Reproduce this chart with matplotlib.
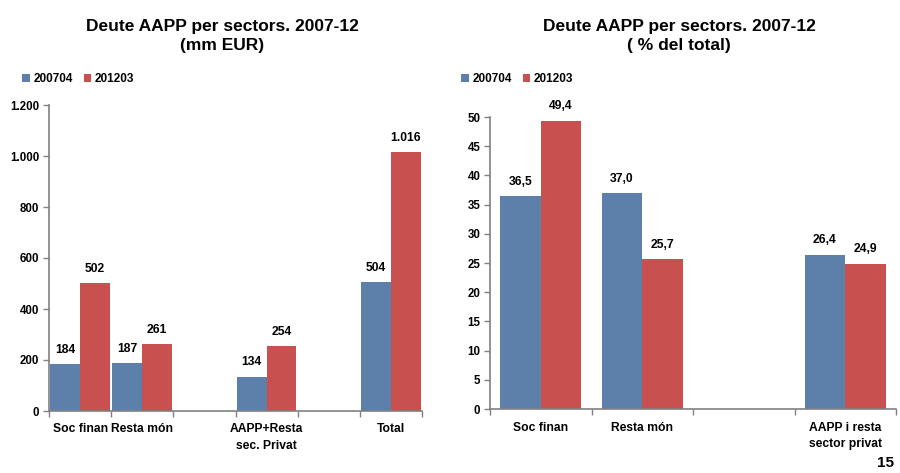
import numpy as np
import matplotlib
matplotlib.use("Agg")
import matplotlib.pyplot as plt

plt.rcParams['font.family'] = ['Liberation Sans', 'DejaVu Sans']
plt.rcParams['font.weight'] = 'bold'

BLUE = '#5D80AB'
RED = '#C8504F'
AXC = '#808080'

series_names = ['200704', '201203']

# Debt by sector, millions of EUR
cats_abs = ['Soc finan', 'Resta món', '', 'AAPP+Resta\nsec. Privat', '', 'Total']
abs_2007 = [184, 187, np.nan, 134, np.nan, 504]
abs_2012 = [502, 261, np.nan, 254, np.nan, 1016]
abs_yticks = [0, 200, 400, 600, 800, 1000, 1200]
abs_yticklabels = ['0', '200', '400', '600', '800', '1.000', '1.200']

# Share of total debt, percent
cats_pct = ['Soc finan', 'Resta món', '', 'AAPP i resta\nsector privat']
pct_2007 = [36.5, 37.0, np.nan, 26.4]
pct_2012 = [49.4, 25.7, np.nan, 24.9]
pct_yticks = [0, 5, 10, 15, 20, 25, 30, 35, 40, 45, 50]

W, H = 900, 473
fig = plt.figure(figsize=(W / 100, H / 100), dpi=100)


def px_axes(x0, y_top, x1, y_bot):
    return fig.add_axes([x0 / W, 1 - y_bot / H, (x1 - x0) / W, (y_bot - y_top) / H])


def fmt_abs(v):
    return f"{int(round(v)):,}".replace(',', '.')


def fmt_pct(v):
    return f"{v:.1f}".replace('.', ',')


def style_axes(ax, ncat):
    for s in ['top', 'right']:
        ax.spines[s].set_visible(False)
    for s in ['left', 'bottom']:
        ax.spines[s].set_color(AXC)
        ax.spines[s].set_linewidth(1.2)
    ax.set_xlim(-0.5, ncat - 0.5)
    ax.set_xticks(np.arange(-0.5, ncat, 1.0), minor=True)
    ax.tick_params(axis='x', which='minor', length=4, width=1, color=AXC, direction='out')
    ax.tick_params(axis='x', which='major', length=0, pad=9, labelsize=8.7)
    ax.tick_params(axis='y', length=4, width=1, color=AXC, direction='out', labelsize=8.3, pad=3)


def draw(ax, cats, v1, v2, width, fmt, label_off):
    x = np.arange(len(cats))
    ax.bar(x - width / 2, v1, width, color=BLUE, label=series_names[0])
    ax.bar(x + width / 2, v2, width, color=RED, label=series_names[1])
    for xs, vals in ((x - width / 2, v1), (x + width / 2, v2)):
        for xi, v in zip(xs, vals):
            if np.isnan(v):
                continue
            ax.annotate(fmt(v), (xi, v), xytext=(0, label_off), textcoords='offset points',
                        ha='center', va='bottom', fontsize=8.7, fontweight='bold')
    ax.set_xticks(x)
    ax.set_xticklabels(cats, linespacing=1.45)


# Left panel
ax1 = px_axes(49, 105, 422, 411)
draw(ax1, cats_abs, abs_2007, abs_2012, 0.48, fmt_abs, 6)
ax1.set_ylim(0, 1200)
ax1.set_yticks(abs_yticks)
ax1.set_yticklabels(abs_yticklabels)
style_axes(ax1, len(cats_abs))

# Right panel
ax2 = px_axes(490, 117, 896, 409)
draw(ax2, cats_pct, pct_2007, pct_2012, 0.4, fmt_pct, 6)
ax2.set_ylim(0, 50)
ax2.set_yticks(pct_yticks)
style_axes(ax2, len(cats_pct))

# Titles
fig.text(222 / W, 1 - 36 / H, 'Deute AAPP per sectors. 2007-12\n(mm EUR)', ha='center', va='center',
         fontsize=12.5, fontweight='bold', linespacing=1.4)
fig.text(679 / W, 1 - 36 / H, 'Deute AAPP per sectors. 2007-12\n( % del total)', ha='center', va='center',
         fontsize=12.5, fontweight='bold', linespacing=1.4)

# Legends
for ax, x0 in ((ax1, 20), (ax2, 459)):
    h, l = ax.get_legend_handles_labels()
    fig.legend(h, l, loc='center left', bbox_to_anchor=(x0 / W, 1 - 79 / H), ncol=2, frameon=False,
               fontsize=8.5, handlelength=0.65, handleheight=0.65, handletextpad=0.3, columnspacing=0.9,
               borderaxespad=0, borderpad=0.2)

fig.text(885 / W, 1 - 463 / H, '15', ha='center', va='center', fontsize=11, fontweight='bold')

fig.savefig('out.png', dpi=100)
